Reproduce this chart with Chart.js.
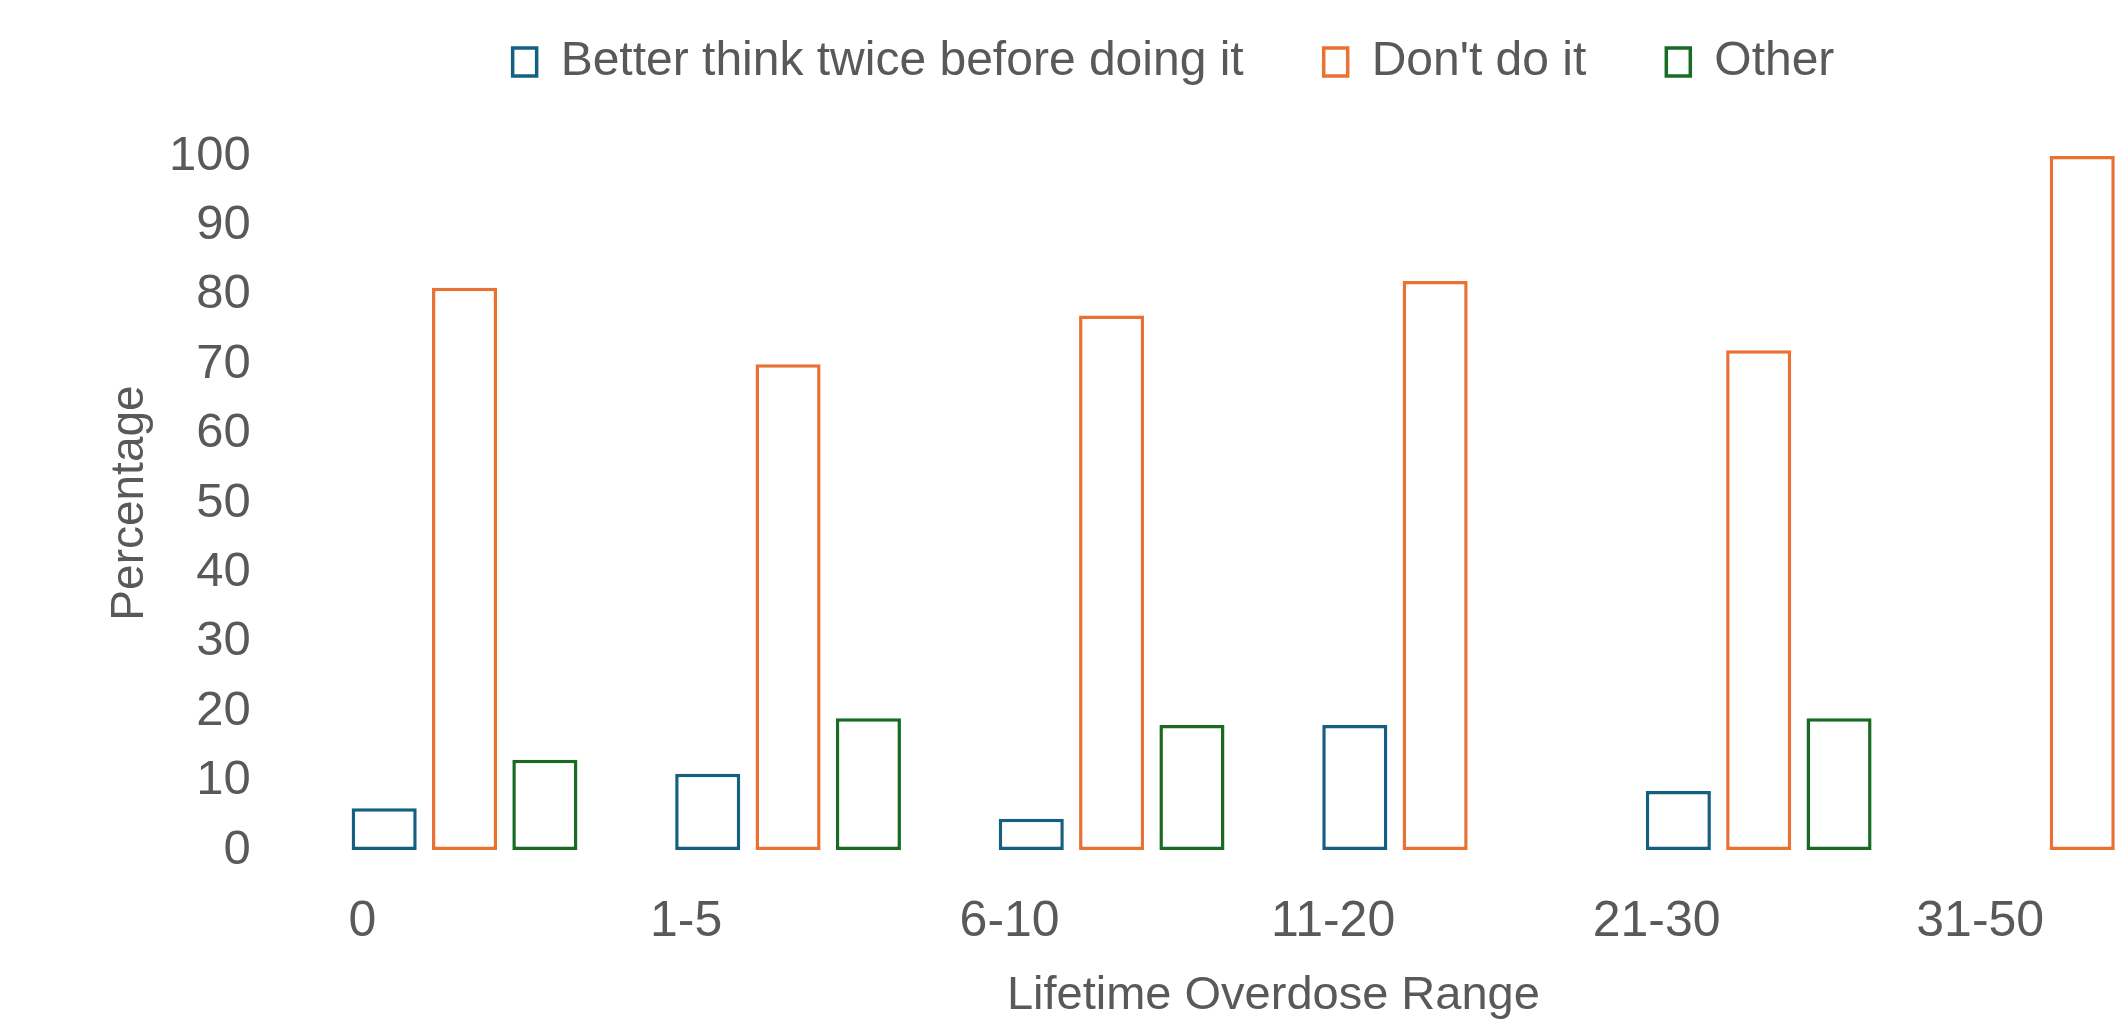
<!DOCTYPE html>
<html>
<head>
<meta charset="utf-8">
<title>Lifetime Overdose Range</title>
<script src="https://cdn.jsdelivr.net/npm/chart.js@4.4.1/dist/chart.umd.min.js"></script>
<style>
  html, body { margin: 0; padding: 0; background: #fff; overflow: hidden; }
  canvas { display: block; }
</style>
</head>
<body>
<canvas id="myChart" width="2350" height="1024"></canvas>
<script>
// categories and percentages per answer
const ranges = ["0", "1-5", "6-10", "11-20", "21-30", "31-50"];
const thinkTwice = [6, 11, 4.5, 18, 8.5, 0];
const dontDoIt = [81, 70, 77, 82, 72, 100];
const other = [13, 19, 18, 0, 19, 0];
const yTicks = [0, 10, 20, 30, 40, 50, 60, 70, 80, 90, 100];

const textGrey = "#595959";
Chart.defaults.font.family = "'Liberation Sans', Arial, sans-serif";
Chart.defaults.color = textGrey;

// push the plot area down below the legend
const legendSpacer = {
    id: "legendSpacer",
    beforeInit(chart) {
        const fit = chart.legend.fit;
        chart.legend.fit = function () {
            fit.call(this);
            this.height += 60;
        };
    }
};

const outlined = (label, color, data) => ({
    label: label,
    data: data,
    backgroundColor: "#ffffff",
    borderColor: color,
    borderWidth: 3.5,
    borderSkipped: false,
    categoryPercentage: 0.745,
    barPercentage: 0.81,
});

const canvasElement = document.getElementById("myChart");

const config = {
    type: "bar",
    data: {
        labels: ranges,
        datasets: [
            outlined("Better think twice before doing it", "#156082", thinkTwice),
            outlined("Don't do it", "#E97132", dontDoIt),
            outlined("Other", "#196B24", other),
        ],
    },
    options: {
        responsive: false,
        animation: false,
        layout: {
            padding: { top: -42, left: 103, right: 106, bottom: 0 },
        },
        plugins: {
            legend: {
                position: "top",
                labels: {
                    font: { size: 48 },
                    color: textGrey,
                    boxWidth: 24,
                    boxHeight: 28,
                    padding: 80,
                },
            },
            tooltip: { enabled: false },
        },
        scales: {
            x: {
                grid: { display: false, drawTicks: false },
                border: { display: false },
                ticks: {
                    font: { size: 50 },
                    padding: 42,
                    labelOffset: -102,
                    maxRotation: 0,
                    autoSkip: false,
                },
                title: {
                    display: true,
                    text: "Lifetime Overdose Range",
                    font: { size: 47, lineHeight: 1 },
                    padding: { top: -21, bottom: 4 },
                },
            },
            y: {
                min: 0,
                max: 100,
                grid: { display: false, drawTicks: false },
                border: { display: false },
                afterBuildTicks(axis) {
                    axis.ticks = yTicks.map(v => ({ value: v }));
                },
                ticks: {
                    font: { size: 49 },
                    padding: 52,
                },
                title: {
                    display: true,
                    text: "Percentage",
                    font: { size: 46, lineHeight: 1 },
                    padding: { top: 4, bottom: -36 },
                },
            },
        },
    },
    plugins: [legendSpacer],
};

const myChart = new Chart(canvasElement, config);
</script>
</body>
</html>
